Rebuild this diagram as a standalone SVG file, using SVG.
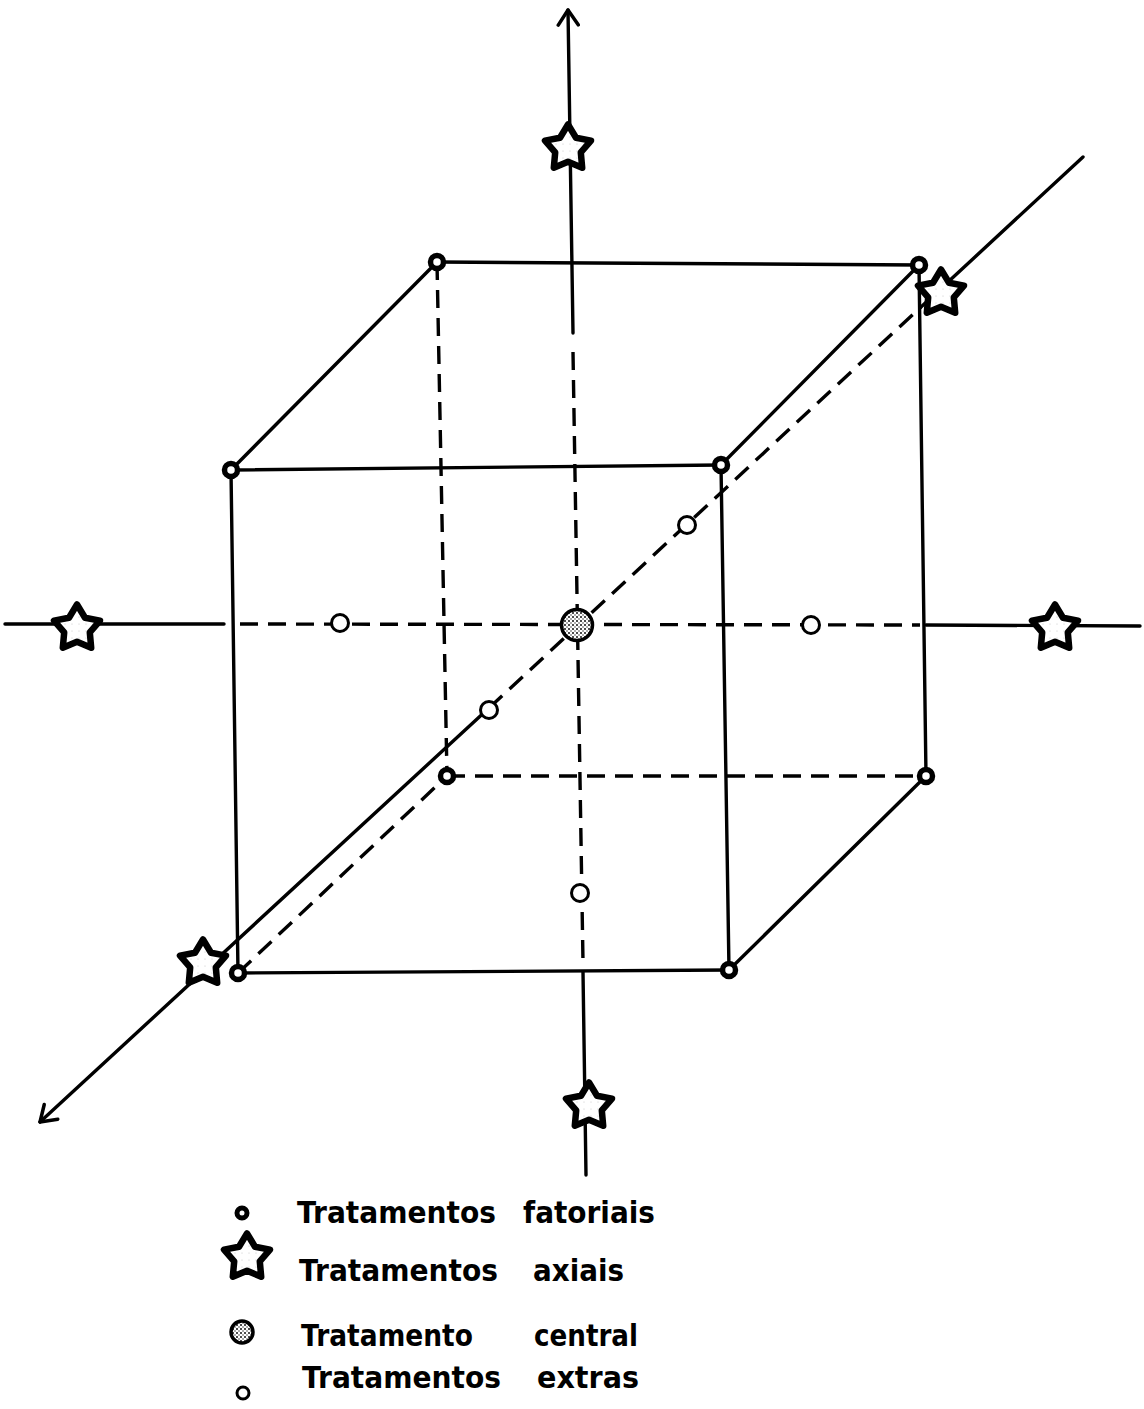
<svg xmlns="http://www.w3.org/2000/svg" width="1144" height="1409" viewBox="0 0 1144 1409">
<defs>
  <pattern id="stip" width="4" height="4" patternUnits="userSpaceOnUse">
    <rect width="4" height="4" fill="#ffffff"/>
    <circle cx="1" cy="1" r="1" fill="#111"/>
    <circle cx="3" cy="3" r="0.8" fill="#444"/>
  </pattern>
  <pattern id="light" width="7" height="7" patternUnits="userSpaceOnUse">
    <rect width="7" height="7" fill="#ffffff"/>
    <circle cx="2" cy="3" r="0.5" fill="#bbb"/>
  </pattern>
  <path id="star" d="M0,-23.5 L8,-10.3 L23,-7.4 L12.8,4.4 L14.2,19.7 L0,13.7 L-14.2,19.7 L-12.8,4.4 L-23,-7.4 L-8,-10.3 Z"/>
  <marker id="arr" viewBox="0 0 20 24" refX="18" refY="12" markerWidth="20" markerHeight="24" markerUnits="userSpaceOnUse" orient="auto-start-reverse">
    <path d="M3,2 L18,12 L3,22" fill="none" stroke="#000" stroke-width="3.5" stroke-linecap="round" stroke-linejoin="round"/>
  </marker>
  <style>
    .ln{stroke:#000;stroke-width:3.4;fill:none;stroke-linecap:round}
    .ds{stroke:#000;stroke-width:3.4;fill:none;stroke-dasharray:18 10}
    .fac{fill:#fff;stroke:#000;stroke-width:5.5}
    .ext{fill:#fff;stroke:#000;stroke-width:3}
    .cen{fill:url(#stip);stroke:#000;stroke-width:3.5}
    .st{fill:url(#light);stroke:#000;stroke-width:6.5;stroke-linejoin:round}
    .lt{font-family:"DejaVu Sans","Liberation Sans",sans-serif;font-size:31px;font-weight:bold;fill:#000}
  </style>
</defs>
<rect width="1144" height="1409" fill="#fff"/>

<g id="connectors">
  <!-- front face -->
  <line class="ln" x1="231" y1="470" x2="721" y2="465"/>
  <line class="ln" x1="231" y1="470" x2="238" y2="973"/>
  <line class="ln" x1="238" y1="973" x2="729" y2="970"/>
  <line class="ln" x1="721" y1="465" x2="729" y2="970"/>
  <!-- back face -->
  <line class="ln" x1="437" y1="262" x2="919" y2="265"/>
  <line class="ln" x1="919" y1="265" x2="926" y2="776"/>
  <line class="ds" x1="437" y1="262" x2="447" y2="776"/>
  <line class="ds" x1="447" y1="776" x2="926" y2="776"/>
  <!-- connecting edges -->
  <line class="ln" x1="231" y1="470" x2="437" y2="262"/>
  <line class="ln" x1="721" y1="465" x2="919" y2="265"/>
  <line class="ln" x1="729" y1="970" x2="926" y2="776"/>
  <line class="ds" x1="238" y1="973" x2="447" y2="776"/>
  <!-- vertical axis -->
  <line class="ln" x1="568" y1="10" x2="573" y2="333" marker-start="url(#arr)"/>
  <line class="ds" x1="573" y1="352" x2="583" y2="962"/>
  <line class="ln" x1="583" y1="972" x2="586" y2="1175"/>
  <!-- horizontal axis -->
  <line class="ln" x1="5" y1="624" x2="224" y2="624"/>
  <line class="ds" x1="240" y1="624" x2="920" y2="625"/>
  <line class="ln" x1="926" y1="625" x2="1140" y2="626"/>
  <!-- diagonal axis -->
  <line class="ln" x1="40" y1="1122" x2="489" y2="708" marker-start="url(#arr)"/>
  <line class="ds" x1="489" y1="708" x2="921" y2="307"/>
  <line class="ln" x1="921" y1="307" x2="1083" y2="157"/>
</g>

<g id="factorial-points">
  <g id="f1"><circle class="fac" cx="437" cy="262" r="6.5"/></g>
  <g id="f2"><circle class="fac" cx="919" cy="265" r="6.5"/></g>
  <g id="f3"><circle class="fac" cx="231" cy="470" r="6.5"/></g>
  <g id="f4"><circle class="fac" cx="721" cy="465" r="6.5"/></g>
  <g id="f5"><circle class="fac" cx="447" cy="776" r="6.5"/></g>
  <g id="f6"><circle class="fac" cx="926" cy="776" r="6.5"/></g>
  <g id="f7"><circle class="fac" cx="238" cy="973" r="6.5"/></g>
  <g id="f8"><circle class="fac" cx="729" cy="970" r="6.5"/></g>
</g>

<g id="extra-points">
  <g id="e1"><circle class="ext" cx="340" cy="623" r="8.5"/></g>
  <g id="e2"><circle class="ext" cx="811" cy="625" r="8.5"/></g>
  <g id="e3"><circle class="ext" cx="687" cy="525" r="8.5"/></g>
  <g id="e4"><circle class="ext" cx="489" cy="710" r="8.5"/></g>
  <g id="e5"><circle class="ext" cx="580" cy="893" r="8.5"/></g>
</g>

<g id="central-point"><circle class="cen" cx="577" cy="625" r="15.5"/></g>

<g id="axial-points">
  <g id="a1"><use href="#star" class="st" x="568" y="148"/></g>
  <g id="a2"><use href="#star" class="st" x="941" y="293"/></g>
  <g id="a3"><use href="#star" class="st" x="77" y="628"/></g>
  <g id="a4"><use href="#star" class="st" x="1055" y="628"/></g>
  <g id="a5"><use href="#star" class="st" x="203" y="963"/></g>
  <g id="a6"><use href="#star" class="st" x="589" y="1106"/></g>
</g>

<g id="legend">
  <g id="leg-fac">
    <circle class="fac" cx="242" cy="1213" r="5" style="stroke-width:5"/>
    <text class="lt" x="297" y="1223" textLength="199" lengthAdjust="spacingAndGlyphs">Tratamentos</text>
    <text class="lt" x="523" y="1223" textLength="132" lengthAdjust="spacingAndGlyphs">fatoriais</text>
  </g>
  <g id="leg-ax">
    <use href="#star" class="st" x="247" y="1257"/>
    <text class="lt" x="299" y="1281" textLength="199" lengthAdjust="spacingAndGlyphs">Tratamentos</text>
    <text class="lt" x="533" y="1281" textLength="91" lengthAdjust="spacingAndGlyphs">axiais</text>
  </g>
  <g id="leg-cen">
    <circle class="cen" cx="242" cy="1332" r="11"/>
    <text class="lt" x="301" y="1346" textLength="172" lengthAdjust="spacingAndGlyphs">Tratamento</text>
    <text class="lt" x="534" y="1346" textLength="104" lengthAdjust="spacingAndGlyphs">central</text>
  </g>
  <g id="leg-ext">
    <circle class="ext" cx="243" cy="1393" r="6"/>
    <text class="lt" x="302" y="1388" textLength="199" lengthAdjust="spacingAndGlyphs">Tratamentos</text>
    <text class="lt" x="537" y="1388" textLength="102" lengthAdjust="spacingAndGlyphs">extras</text>
  </g>
</g>
</svg>
